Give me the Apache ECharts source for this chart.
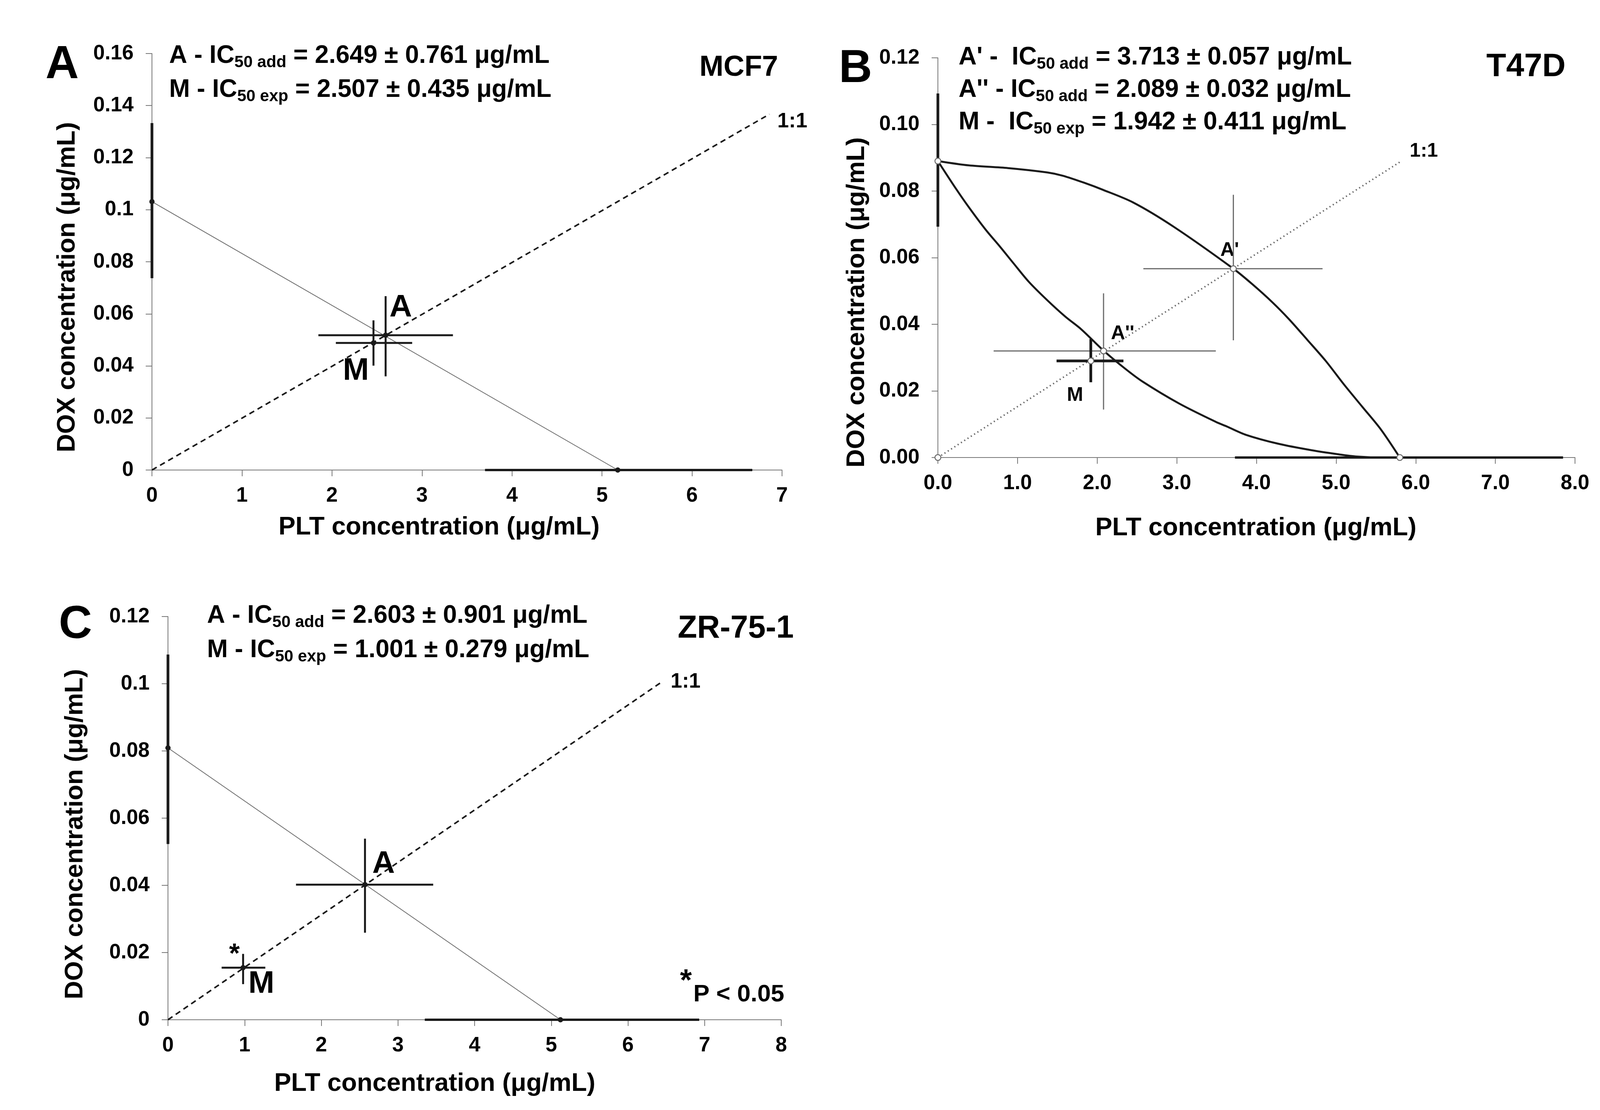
<!DOCTYPE html>
<html>
<head>
<meta charset="UTF-8">
<title>DOX / PLT isobolograms</title>
<script src="https://cdn.jsdelivr.net/npm/echarts@6.0.0/dist/echarts.min.js"></script>
<style>
html, body { margin: 0; padding: 0; background: #fff; }
#main { width: 4190px; height: 2841px; }
</style>
</head>
<body>
<div id="main"></div>
<script type="text/javascript">
// ---------- values ----------
// cross items are [x, y, xLow, xHigh, yLow, yHigh]

// A : MCF7
var aAdditive = [[0, 0.1031], [5.175, 0]];
var aRatio = [[0, 0], [6.86, 0.1367]];
var aCrossA = [2.596, 0.0518, 1.849, 3.344, 0.0360, 0.0668];
var aCrossM = [2.461, 0.0488, 2.043, 2.891, 0.0401, 0.0575];
var aDoxBar = [0, 0.1031, 0, 0, 0.0737, 0.1333];
var aPltBar = [5.175, 0, 3.70, 6.67, 0, 0];
var aDots = [[0, 0.1031], [5.175, 0], [2.596, 0.0518], [2.461, 0.0488]];

// B : T47D
var bUpper = [[0, 0.0890], [0.39, 0.0877], [0.88, 0.0869], [1.37, 0.0856], [1.57, 0.0846],
              [1.86, 0.0823], [2.07, 0.0804], [2.45, 0.0766], [2.96, 0.0693], [3.71, 0.0567],
              [3.95, 0.0520], [4.20, 0.0466], [4.41, 0.0415], [4.64, 0.0353], [4.87, 0.0290],
              [5.10, 0.0219], [5.33, 0.0152], [5.56, 0.0085], [5.80, 0]];
var bLower = [[0, 0.0890], [0.23, 0.0806], [0.39, 0.0751], [0.60, 0.0684], [0.78, 0.0633],
              [0.95, 0.0583], [1.14, 0.0528], [1.37, 0.0473], [1.60, 0.0423], [1.80, 0.0385],
              [2.08, 0.0321], [2.35, 0.0267], [2.57, 0.0228], [3.03, 0.0162], [3.49, 0.0107],
              [3.63, 0.0093], [3.87, 0.0068], [4.28, 0.0041], [4.69, 0.0022], [5.02, 0.0010],
              [5.26, 0.0003], [5.60, 0], [5.80, 0]];
var bRatio = [[0, 0], [5.80, 0.0887]];
var bCrossA1 = [3.71, 0.0567, 2.58, 4.83, 0.0352, 0.0789];
var bCrossA2 = [2.08, 0.0320, 0.70, 3.49, 0.0144, 0.0493];
var bCrossM = [1.92, 0.0290, 1.49, 2.33, 0.0226, 0.0356];
var bDoxBar = [0, 0.0890, 0, 0, 0.0693, 0.1093];
var bPltBar = [5.80, 0, 3.73, 7.85, 0, 0];
var bDots = [[0, 0.0890], [0, 0], [5.80, 0], [3.71, 0.0567], [2.08, 0.0320], [1.92, 0.0290]];

// C : ZR-75-1
var cAdditive = [[0, 0.0809], [5.12, 0]];
var cRatio = [[0, 0], [6.42, 0.1002]];
var cCrossA = [2.57, 0.0402, 1.67, 3.46, 0.0259, 0.0539];
var cCrossM = [0.98, 0.0155, 0.70, 1.27, 0.0106, 0.0196];
var cDoxBar = [0, 0.0809, 0, 0, 0.0523, 0.1087];
var cPltBar = [5.12, 0, 3.35, 6.93, 0, 0];
var cDots = [[0, 0.0809], [5.12, 0], [2.57, 0.0402], [0.98, 0.0155]];

var FONT = '"Liberation Sans", Arial, sans-serif';
var INK = '#1a1a1a';
var GREY = '#6a6a6a';

function lineSeries(idx, data, width, color, type, smooth) {
    return {
        type: 'line', xAxisIndex: idx, yAxisIndex: idx, data: data,
        symbol: 'none', showSymbol: false, smooth: smooth || false,
        lineStyle: { width: width, color: color, type: type || 'solid' },
        silent: true, animation: false, z: 3
    };
}

function crossSeries(idx, item, width, color) {
    return {
        type: 'custom', xAxisIndex: idx, yAxisIndex: idx, data: [item],
        encode: { x: [0, 2, 3], y: [1, 4, 5] }, silent: true, animation: false, z: 4,
        renderItem: function (params, api) {
            var x = api.value(0), y = api.value(1);
            var kids = [];
            if (api.value(2) !== api.value(3)) {
                var p1 = api.coord([api.value(2), y]), p2 = api.coord([api.value(3), y]);
                kids.push({ type: 'line', shape: { x1: p1[0], y1: p1[1], x2: p2[0], y2: p2[1] },
                            style: { stroke: color, lineWidth: width } });
            }
            if (api.value(4) !== api.value(5)) {
                var q1 = api.coord([x, api.value(4)]), q2 = api.coord([x, api.value(5)]);
                kids.push({ type: 'line', shape: { x1: q1[0], y1: q1[1], x2: q2[0], y2: q2[1] },
                            style: { stroke: color, lineWidth: width } });
            }
            return { type: 'group', children: kids };
        }
    };
}

function dotSeries(idx, data, size, fill, border) {
    return {
        type: 'scatter', xAxisIndex: idx, yAxisIndex: idx, data: data, symbolSize: size,
        itemStyle: { color: fill, borderColor: border, borderWidth: 2.5, opacity: 1 },
        silent: true, animation: false, z: 6
    };
}

function xAxisCfg(idx, max, fmt) {
    return {
        gridIndex: idx, type: 'value', min: 0, max: max, interval: 1,
        axisLine: { onZero: false, lineStyle: { color: '#777', width: 2 } },
        axisTick: { length: 16, lineStyle: { color: '#777', width: 2 } },
        axisLabel: { margin: 40, color: '#000', fontSize: 53, fontWeight: 'bold', fontFamily: FONT,
                     showMinLabel: true, showMaxLabel: true, formatter: fmt },
        splitLine: { show: false }
    };
}

function yAxisCfg(idx, max, fmt) {
    return {
        gridIndex: idx, type: 'value', min: 0, max: max, interval: 0.02,
        axisLine: { onZero: false, lineStyle: { color: '#777', width: 2 } },
        axisTick: { length: 16, lineStyle: { color: '#777', width: 2 } },
        axisLabel: { margin: 47, color: '#000', fontSize: 53, fontWeight: 'bold', fontFamily: FONT,
                     showMinLabel: true, showMaxLabel: true, formatter: fmt },
        splitLine: { show: false }
    };
}

function plain(v) { return String(Math.round(v * 1000) / 1000); }
function fix1(v) { return v.toFixed(1); }
function fix2(v) { return v.toFixed(2); }

function txt(x, y, text, size, align, rot) {
    return {
        type: 'text', x: x, y: y, rotation: rot || 0, silent: true,
        style: { text: text, fill: '#000', font: 'bold ' + size + 'px ' + FONT,
                 textAlign: align || 'center', align: align || 'center',
                 textVerticalAlign: 'middle', verticalAlign: 'middle' }
    };
}

function icLine(x, cy, pre, sub, post) {
    return {
        type: 'text', x: x, y: cy - 38, silent: true,
        style: {
            text: '{n|' + pre + '}{s|' + sub + '}{n|' + post + '}',
            textAlign: 'left', align: 'left', textVerticalAlign: 'top', verticalAlign: 'top',
            rich: {
                n: { fontSize: 64, fontWeight: 'bold', fontFamily: FONT, lineHeight: 76, fill: '#000', color: '#000' },
                s: { fontSize: 42, fontWeight: 'bold', fontFamily: FONT, lineHeight: 34, verticalAlign: 'bottom', fill: '#000', color: '#000' }
            }
        }
    };
}

var myChart = echarts.init(document.getElementById('main'), null, { renderer: 'canvas' });

var option = {
    backgroundColor: '#fff',
    animation: false,
    grid: [
        { left: 389, top: 137, width: 1613, height: 1066 },
        { left: 2401, top: 148, width: 1631, height: 1023 },
        { left: 430, top: 1578, width: 1570, height: 1032 }
    ],
    xAxis: [xAxisCfg(0, 7, plain), xAxisCfg(1, 8, fix1), xAxisCfg(2, 8, plain)],
    yAxis: [yAxisCfg(0, 0.16, plain), yAxisCfg(1, 0.12, fix2), yAxisCfg(2, 0.12, plain)],
    series: [
        // A
        lineSeries(0, aAdditive, 2, GREY),
        lineSeries(0, aRatio, 4, INK, [14, 10]),
        crossSeries(0, aDoxBar, 7, INK),
        crossSeries(0, aPltBar, 6, INK),
        crossSeries(0, aCrossA, 5, INK),
        crossSeries(0, aCrossM, 5, INK),
        dotSeries(0, aDots, 11, INK, INK),
        // B
        lineSeries(1, bUpper, 5, INK, 'solid', 0.3),
        lineSeries(1, bLower, 5, INK, 'solid', 0.3),
        lineSeries(1, bRatio, 4, GREY, [3, 7]),
        crossSeries(1, bDoxBar, 7, INK),
        crossSeries(1, bPltBar, 6, INK),
        crossSeries(1, bCrossA1, 3, GREY),
        crossSeries(1, bCrossA2, 3, GREY),
        crossSeries(1, bCrossM, 7, INK),
        dotSeries(1, bDots, 15, '#fff', GREY),
        // C
        lineSeries(2, cAdditive, 2, GREY),
        lineSeries(2, cRatio, 4, INK, [14, 10]),
        crossSeries(2, cDoxBar, 7, INK),
        crossSeries(2, cPltBar, 6, INK),
        crossSeries(2, cCrossA, 5, INK),
        crossSeries(2, cCrossM, 5, INK),
        dotSeries(2, cDots, 11, INK, INK)
    ],
    graphic: [
        // panel A
        txt(159, 167, 'A', 118),
        icLine(433, 143, 'A - IC', '50 add', ' = 2.649 ± 0.761 μg/mL'),
        icLine(433, 230, 'M - IC', '50 exp', ' = 2.507 ± 0.435 μg/mL'),
        txt(1992, 174, 'MCF7', 74, 'right'),
        txt(1990, 311, '1:1', 53, 'left'),
        txt(1026, 788, 'A', 80),
        txt(911, 950, 'M', 80),
        txt(1124, 1350, 'PLT concentration (μg/mL)', 65),
        txt(173, 735, 'DOX concentration (μg/mL)', 65, 'center', Math.PI / 2),
        // panel B
        txt(2190, 177, 'B', 118),
        icLine(2454, 147, "A' -  IC", '50 add', ' = 3.713 ± 0.057 μg/mL'),
        icLine(2454, 230, "A'' - IC", '50 add', ' = 2.089 ± 0.032 μg/mL'),
        icLine(2454, 313, 'M -  IC', '50 exp', ' = 1.942 ± 0.411 μg/mL'),
        txt(4008, 172, 'T47D', 83, 'right'),
        txt(3645, 387, '1:1', 50),
        txt(3148, 641, "A'", 50),
        txt(2874, 854, "A''", 50),
        txt(2752, 1012, 'M', 50),
        txt(3215, 1352, 'PLT concentration (μg/mL)', 65),
        txt(2194, 774, 'DOX concentration (μg/mL)', 65, 'center', Math.PI / 2),
        // panel C
        txt(193, 1600, 'C', 118),
        icLine(530, 1576, 'A - IC', '50 add', ' = 2.603 ± 0.901 μg/mL'),
        icLine(530, 1664, 'M - IC', '50 exp', ' = 1.001 ± 0.279 μg/mL'),
        txt(2032, 1610, 'ZR-75-1', 81, 'right'),
        txt(1755, 1745, '1:1', 53),
        txt(982, 2212, 'A', 80),
        txt(600, 2445, '*', 70),
        txt(669, 2519, 'M', 80),
        txt(1756, 2513, '*', 78),
        txt(1775, 2546, 'P < 0.05', 62, 'left'),
        txt(1113, 2774, 'PLT concentration (μg/mL)', 65),
        txt(193, 2135, 'DOX concentration (μg/mL)', 65, 'center', Math.PI / 2)
    ]
};

myChart.setOption(option);
</script>
</body>
</html>
